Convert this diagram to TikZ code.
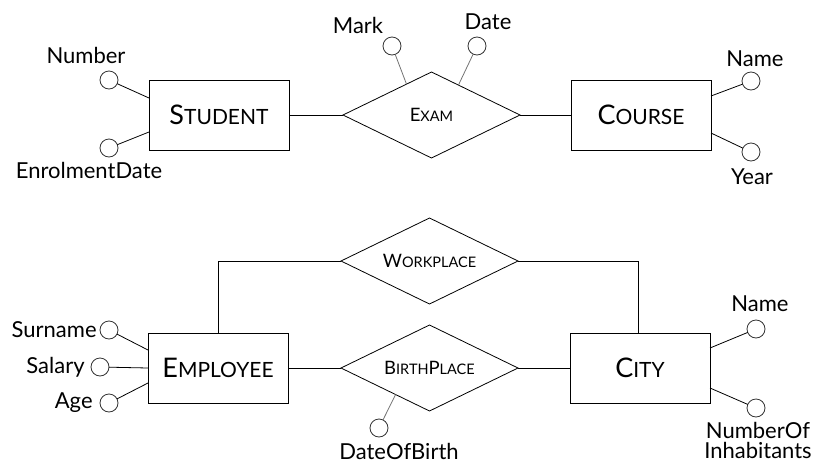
\documentclass[tikz,border=0pt]{standalone}
\usepackage{fontspec}
\setmainfont{Lato}
\usetikzlibrary{positioning,shapes.geometric}

\newcommand{\entsc}[2]{#1{\fontsize{21}{24}\selectfont #2}}
\newcommand{\relsc}[2]{#1{\fontsize{14.5}{17}\selectfont #2}}

\begin{document}
\begin{tikzpicture}[x=1pt, y=-1pt, line width=0.8pt,
                    entity/.style={rectangle, draw=black, minimum width=140pt, minimum height=70pt, inner sep=0pt, outer sep=0pt, font=\fontsize{27}{32}\selectfont},
                    relation/.style={diamond, aspect=2.06, draw=black, minimum width=177pt, minimum height=86pt, inner sep=0pt, outer sep=0pt, font=\fontsize{18.5}{22}\selectfont},
                    attrib/.style={circle, draw=black!80, minimum size=18pt, inner sep=0pt, outer sep=0pt},
                    attrlabel/.style={inner sep=1pt, font=\fontsize{22}{20}\selectfont},
                    link/.style={draw=black},
                    greylink/.style={draw=black!55}
                ]
                    \useasboundingbox (0,0) rectangle (815,464);

                    % upper schema
                    \node[entity] (student) at (219,115) {\entsc{S}{TUDENT}};
                    \node[relation] (exam) [right=54pt of student] {\relsc{E}{XAM}};
                    \node[entity] (course) [right=51pt of exam] {\entsc{C}{OURSE}};
                    \draw[link] (student) -- (exam);
                    \draw[link] (exam) -- (course);

                    \node[attrib] (number) at (109,80) {};
                    \node[attrlabel] (numberlbl) at (86,55) {Number};
                    \node[attrib] (enrolment) at (109,148) {};
                    \node[attrlabel] (enrolmentlbl) at (89,170) {EnrolmentDate};
                    \draw[link] ([yshift=17pt]student.west) -- (number);
                    \draw[link] ([yshift=-17pt]student.west) -- (enrolment);

                    \node[attrib] (mark) at (392,46) {};
                    \node[attrlabel] (marklbl) at (358,25) {Mark};
                    \node[attrib] (date) at (477,46) {};
                    \node[attrlabel] (datelbl) at (488,22) {Date};
                    \draw[greylink] (exam.129) -- (mark);
                    \draw[greylink] (exam.48) -- (date);

                    \node[attrib] (cname) at (751,81) {};
                    \node[attrlabel] (cnamelbl) at (755,59) {Name};
                    \node[attrib] (year) at (751,152) {};
                    \node[attrlabel] (yearlbl) at (752,177) {Year};
                    \draw[link] ([yshift=19pt]course.east) -- (cname);
                    \draw[link] ([yshift=-18pt]course.east) -- (year);

                    % lower schema
                    \node[entity] (employee) at (218,368) {\entsc{E}{MPLOYEE}};
                    \node[relation] (birthplace) [right=53pt of employee] {\relsc{B}{IRTH}\relsc{P}{LACE}};
                    \node[entity] (city) [right=52pt of birthplace] {\entsc{C}{ITY}};
                    \node[relation] (workplace) [above=21pt of birthplace] {\relsc{W}{ORKPLACE}};
                    \draw[link] (employee) -- (birthplace);
                    \draw[link] (birthplace) -- (city);
                    \draw[link] (employee.north) |- (workplace.west);
                    \draw[link] (workplace.east) -| ([xshift=-2pt]city.north);

                    \node[attrib] (surname) at (109,330) {};
                    \node[attrlabel] (surnamelbl) [left=2pt of surname] {Surname};
                    \node[attrib] (salary) at (100,367) {};
                    \node[attrlabel] (salarylbl) [left=5pt of salary] {Salary};
                    \node[attrib] (age) at (109,403) {};
                    \node[attrlabel] (agelbl) [left=6pt of age] {Age};
                    \draw[link] ([yshift=18pt]employee.west) -- (surname);
                    \draw[link] (employee.west) -- (salary);
                    \draw[link] ([yshift=-15pt]employee.west) -- (age);

                    \node[attrib] (birthdate) at (379,428) {};
                    \node[attrlabel] (birthdatelbl) at (399,451) {DateOfBirth};
                    \draw[greylink] (birthplace.218) -- (birthdate);

                    \node[attrib] (cityname) at (756,329) {};
                    \node[attrlabel] (citynamelbl) at (760,304) {Name};
                    \node[attrib] (inhabitants) at (756,408) {};
                    \node[attrlabel, align=center] (inhabitantslbl) at (758,440) {NumberOf\\Inhabitants};
                    \draw[link] ([yshift=20pt]city.east) -- (cityname);
                    \draw[link] ([yshift=-20pt]city.east) -- (inhabitants);
                \end{tikzpicture}
\end{document}
